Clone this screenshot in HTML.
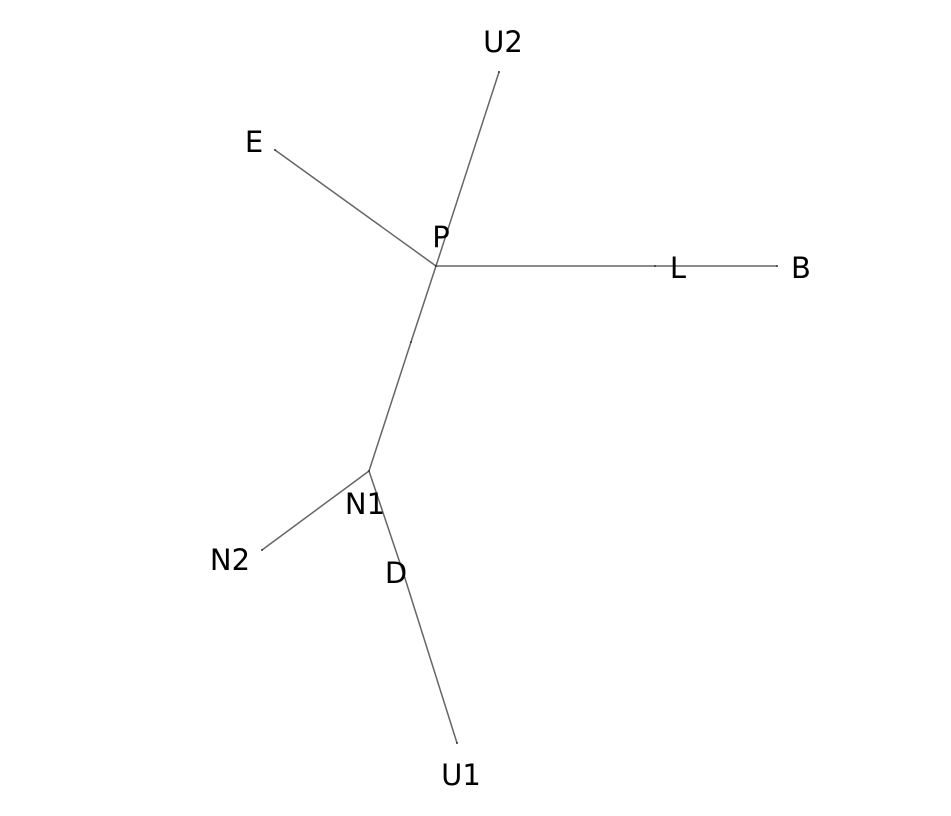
<!DOCTYPE html>
<html>
<head>
<meta charset="utf-8">
<style>
  html,body{margin:0;padding:0;background:#fff;}
  svg{display:block;}
  text{font-family:"DejaVu Sans","Liberation Sans",sans-serif;font-size:29px;fill:#000;}
</style>
</head>
<body>
<svg id="chart" width="951" height="816" viewBox="0 0 951 816">
  <g id="edges"></g>
  <g id="labels"></g>
</svg>
<script>
// Node coordinates in data units (tree layout space)
const nodeNames = ["P","U2","E","L","B","M","N1","N2","D","U1"];
const nodeX = [4.36,4.99,2.75,6.55,7.77,4.11,3.69,2.62,4.03,4.57];
const nodeY = [2.66,0.72,1.50,2.66,2.66,3.42,4.71,5.50,5.72,7.43];
// edges as pairs of node indices
const edgeFrom = [0,0,0,3,0,5,6,6,8];
const edgeTo   = [1,2,3,4,5,6,7,8,9];
// labels
const labelText = ["U2","E","P","L","B","N1","N2","D","U1"];
const labelNode = [1,2,0,3,4,6,7,8,9];
const labelDX = [0.04,-0.21,0.05,0.23,0.24,-0.04,-0.32,-0.07,0.04];
const labelDY = [-0.30,-0.08,-0.29,0.02,0.02,0.33,0.10,0.01,0.32];

const sx = v => v*100;
const sy = v => v*100;
const NS = "http://www.w3.org/2000/svg";
const eg = document.getElementById("edges");
const lg = document.getElementById("labels");

for (let i=0;i<edgeFrom.length;i++){
  const a=edgeFrom[i], b=edgeTo[i];
  const ln=document.createElementNS(NS,"line");
  ln.setAttribute("x1",sx(nodeX[a]));ln.setAttribute("y1",sy(nodeY[a]));
  ln.setAttribute("x2",sx(nodeX[b]));ln.setAttribute("y2",sy(nodeY[b]));
  ln.setAttribute("stroke","#666");ln.setAttribute("stroke-width","1.5");
  
  
  eg.appendChild(ln);
}
for (let i=0;i<nodeNames.length;i++){
  const c=document.createElementNS(NS,"circle");
  c.setAttribute("cx",sx(nodeX[i]));c.setAttribute("cy",sy(nodeY[i]));
  c.setAttribute("r","1");c.setAttribute("fill","#333");
  
  
  eg.appendChild(c);
}
for (let i=0;i<labelText.length;i++){
  const n=labelNode[i];
  const t=document.createElementNS(NS,"text");
  t.setAttribute("x",sx(nodeX[n]+labelDX[i]));
  t.setAttribute("y",sy(nodeY[n]+labelDY[i]));
  t.setAttribute("text-anchor","middle");
  t.setAttribute("dominant-baseline","central");
  t.textContent=labelText[i];
  
  
  lg.appendChild(t);
}
</script>
</body>
</html>
